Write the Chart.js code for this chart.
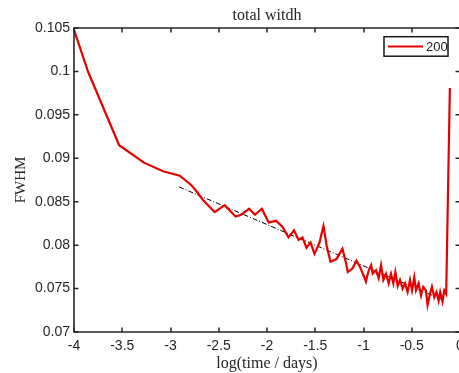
<!DOCTYPE html>
<html>
<head>
<meta charset="utf-8">
<script src="https://cdn.jsdelivr.net/npm/chart.js@4/dist/chart.umd.min.js"></script>
<style>
  html, body { margin: 0; padding: 0; background: #fff; overflow: hidden; }
  #wrap { position: absolute; left: 0; top: 0; width: 475px; height: 373px; }
</style>
</head>
<body>
<div id="wrap"><canvas id="c" width="475" height="373"></canvas></div>
<script>
// ---- data ----
const chartTitle = 'total witdh';
const xAxisTitle = 'log(time / days)';
const yAxisTitle = 'FWHM';
const seriesName = '200';

const logTime = [-4.0, -3.852, -3.532, -3.276, -3.077, -2.904, -2.783, -2.731, -2.663, -2.594,
  -2.542, -2.438, -2.387, -2.325, -2.266, -2.185, -2.125, -2.053, -1.983, -1.906,
  -1.839, -1.777, -1.720, -1.673, -1.632, -1.591, -1.549, -1.508, -1.456, -1.415,
  -1.381, -1.342, -1.280, -1.218, -1.180, -1.163, -1.115, -1.073, -1.037, -1.006,
  -0.975, -0.946, -0.921, -0.905, -0.870, -0.843, -0.818, -0.794, -0.766, -0.739,
  -0.715, -0.691, -0.670, -0.646, -0.622, -0.595, -0.570, -0.543, -0.518, -0.497,
  -0.474, -0.456, -0.429, -0.404, -0.381, -0.353, -0.336, -0.311, -0.291, -0.267,
  -0.243, -0.222, -0.205, -0.181, -0.163, -0.143, -0.105];

const fwhm = [0.1048, 0.0999, 0.0915, 0.0895, 0.0885, 0.0880, 0.0869, 0.0862, 0.0852, 0.0844,
  0.0838, 0.0846, 0.0840, 0.0833, 0.0835, 0.0842, 0.0835, 0.0842, 0.0826, 0.0828,
  0.0821, 0.0809, 0.0817, 0.0806, 0.0809, 0.0797, 0.0803, 0.0790, 0.0803, 0.0822,
  0.0799, 0.0781, 0.0784, 0.0796, 0.0779, 0.0769, 0.0773, 0.0782, 0.0775, 0.0767,
  0.0758, 0.0771, 0.0777, 0.0767, 0.0771, 0.0762, 0.0777, 0.0760, 0.0767, 0.0756,
  0.0767, 0.0756, 0.0769, 0.0753, 0.0760, 0.0750, 0.0756, 0.0746, 0.0760, 0.0748,
  0.0763, 0.0748, 0.0756, 0.0742, 0.0752, 0.0748, 0.0731, 0.0744, 0.0752, 0.0740,
  0.0746, 0.0736, 0.0746, 0.0735, 0.0748, 0.0744, 0.0981];

const fitLogTime = [-2.91, -0.198];
const fitFwhm = [0.0867, 0.0738];

const xTickValues = [-4, -3.5, -3, -2.5, -2, -1.5, -1, -0.5, 0];
const xTickLabels = ['-4', '-3.5', '-3', '-2.5', '-2', '-1.5', '-1', '-0.5', '0'];
const yTickValues = [0.07, 0.075, 0.08, 0.085, 0.09, 0.095, 0.1, 0.105];
const yTickLabels = ['0.07', '0.075', '0.08', '0.085', '0.09', '0.095', '0.1', '0.105'];

// ---- styling ----
const axisColor = '#262626';
const tickFont = { family: '"Liberation Sans", Arial, sans-serif', size: 14 };
const serifFamily = '"Liberation Serif", "Times New Roman", serif';

const boxAndTicks = {
  id: 'boxAndTicks',
  afterDatasetsDraw(chart) {
    const { ctx, chartArea: a, scales } = chart;
    const xs = scales.x, ys = scales.y;
    ctx.save();
    ctx.strokeStyle = axisColor;
    ctx.lineWidth = 1.6;
    ctx.beginPath();
    ctx.rect(a.left, a.top, a.right - a.left, a.bottom - a.top);
    ctx.stroke();
    ctx.lineWidth = 1.5;
    const tl = 4.5;
    ctx.beginPath();
    xTickValues.forEach(v => {
      const px = Math.round(xs.getPixelForValue(v));
      ctx.moveTo(px, a.bottom); ctx.lineTo(px, a.bottom - tl);
      ctx.moveTo(px, a.top); ctx.lineTo(px, a.top + tl);
    });
    yTickValues.forEach(v => {
      const py = ys.getPixelForValue(v);
      ctx.moveTo(a.left, py); ctx.lineTo(a.left + tl, py);
      ctx.moveTo(a.right, py); ctx.lineTo(a.right - tl, py);
    });
    ctx.stroke();
    ctx.restore();
  },
  afterDraw(chart) {
    const { ctx, chartArea: a } = chart;
    // legend box (MATLAB style, inside the axes, north-east)
    const bx = a.right - 76, by = a.top + 8.7, bw = 64, bh = 19.5;
    ctx.save();
    ctx.fillStyle = '#fff';
    ctx.fillRect(bx, by, bw, bh);
    ctx.strokeStyle = '#1a1a1a';
    ctx.lineWidth = 1.5;
    ctx.strokeRect(bx, by, bw, bh);
    const ly = by + bh / 2;
    ctx.strokeStyle = chart.data.datasets[0].borderColor;
    ctx.lineWidth = 2;
    ctx.beginPath();
    ctx.moveTo(bx + 4, ly); ctx.lineTo(bx + 39, ly);
    ctx.stroke();
    ctx.fillStyle = '#1a1a1a';
    ctx.font = '13px "Liberation Sans", Arial, sans-serif';
    ctx.textAlign = 'left';
    ctx.textBaseline = 'middle';
    ctx.fillText(seriesName, bx + 42, ly + 0.5);
    ctx.restore();
  }
};

new Chart(document.getElementById('c'), {
  type: 'line',
  data: {
    datasets: [
      {
        label: seriesName,
        data: logTime.map((x, i) => ({ x: x, y: fwhm[i] })),
        borderColor: '#e60000',
        borderWidth: 2.2,
        pointRadius: 0,
        tension: 0,
        fill: false
      },
      {
        label: 'fit',
        data: fitLogTime.map((x, i) => ({ x: x, y: fitFwhm[i] })),
        borderColor: '#000000',
        borderWidth: 1,
        borderDash: [5, 2, 1, 2],
        pointRadius: 0,
        tension: 0,
        fill: false
      }
    ]
  },
  options: {
    responsive: false,
    animation: false,
    devicePixelRatio: 1,
    layout: { padding: { left: 0, right: 15, top: 0, bottom: 0 } },
    plugins: {
      legend: { display: false },
      tooltip: { enabled: false },
      title: { display: false }
    },
    scales: {
      x: {
        type: 'linear',
        position: 'bottom',
        min: -4, max: 0,
        afterBuildTicks: s => { s.ticks = xTickValues.map(v => ({ value: v })); },
        afterFit: s => { s.height = 41; },
        ticks: {
          autoSkip: false, maxRotation: 0, padding: 6,
          color: axisColor, font: tickFont,
          callback: (v) => xTickLabels[xTickValues.indexOf(v)]
        },
        grid: { display: false, drawTicks: false },
        border: { display: false },
        title: {
          display: true, text: xAxisTitle, color: axisColor,
          font: { family: serifFamily, size: 16 },
          padding: { top: 0, bottom: 0 }
        }
      },
      x2: {
        type: 'linear',
        position: 'top',
        min: -4, max: 0,
        afterFit: s => { s.height = 28; },
        ticks: { display: false },
        grid: { display: false, drawTicks: false },
        border: { display: false },
        title: {
          display: true, text: chartTitle, color: axisColor,
          font: { family: serifFamily, size: 16 },
          padding: { top: 6.5, bottom: 0 }
        }
      },
      y: {
        type: 'linear',
        position: 'left',
        min: 0.07, max: 0.105,
        afterBuildTicks: s => { s.ticks = yTickValues.map(v => ({ value: v })); },
        afterFit: s => { s.width = 74; },
        ticks: {
          autoSkip: false, padding: 4,
          color: axisColor, font: tickFont,
          callback: (v) => yTickLabels[yTickValues.indexOf(v)]
        },
        grid: { display: false, drawTicks: false },
        border: { display: false },
        title: {
          display: true, text: yAxisTitle, color: axisColor,
          font: { family: serifFamily, size: 15 },
          padding: { top: 12, bottom: 0 }
        }
      }
    }
  },
  plugins: [boxAndTicks]
});
</script>
</body>
</html>
